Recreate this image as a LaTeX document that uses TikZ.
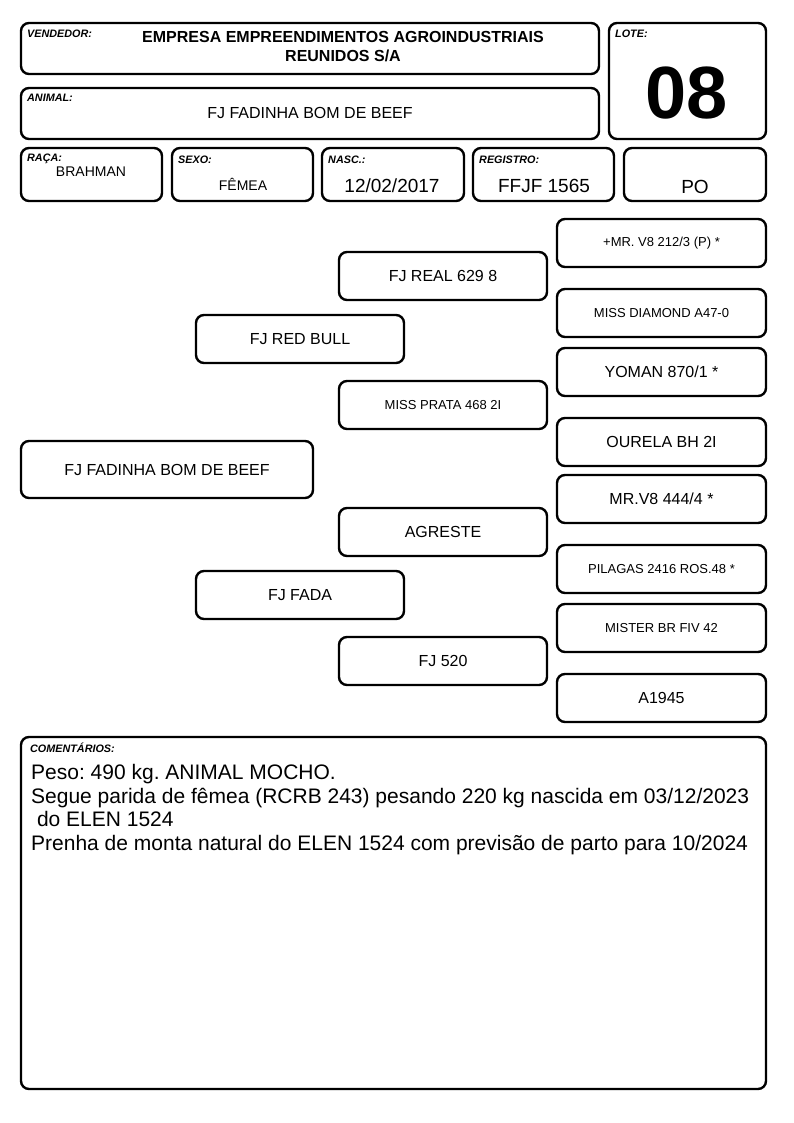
\documentclass[tikz,border=0pt]{standalone}
\usepackage{fontspec}
\setmainfont{Liberation Sans}
\frenchspacing
\begin{document}
\begin{tikzpicture}[x=1pt,y=-1pt,
  box/.style={draw,line width=2.4pt,rounded corners=8pt},
  lbl/.style={font=\fontsize{10.8}{12}\selectfont\bfseries\itshape,anchor=north west,inner sep=0pt},
  big/.style={font=\fontsize{16}{19}\selectfont,inner sep=0pt},
  sm/.style={font=\fontsize{13}{15}\selectfont,inner sep=0pt}]
\useasboundingbox (0,0) rectangle (794,1123);
% header boxes
\draw[box] (21,23) rectangle (599,74);
\draw[box] (609,23) rectangle (766,139);
\draw[box] (21,88) rectangle (599,139);
\draw[box] (21,148) rectangle (162,201);
\draw[box] (172,148) rectangle (313,201);
\draw[box] (322,148) rectangle (464,201);
\draw[box] (473,148) rectangle (614,201);
\draw[box] (624,148) rectangle (766,201);
\node[lbl] (lv) at (27,30) {VENDEDOR:};
\node[font=\fontsize{16}{19}\selectfont\bfseries,align=center,inner sep=0pt] (vend) at (343,47) {EMPRESA EMPREENDIMENTOS AGROINDUSTRIAIS\\REUNIDOS S/A};
\node[lbl] (ll) at (615,30) {LOTE:};
\node[font=\fontsize{74}{74}\selectfont\bfseries,inner sep=0pt] (lote) at (687,93) {08};
\node[lbl] (la) at (27,94) {ANIMAL:};
\node[big] (anim) at (310,113) {FJ FADINHA BOM DE BEEF};
\node[lbl] (lr) at (27,154) {RAÇA:};
\node[font=\fontsize{14}{17}\selectfont,inner sep=0pt] (raca) at (91,172) {BRAHMAN};
\node[lbl] (ls) at (178,156) {SEXO:};
\node[font=\fontsize{14}{17}\selectfont,inner sep=0pt] (sexo) at (243,184) {FÊMEA};
\node[lbl] (ln) at (328,156) {NASC.:};
\node[font=\fontsize{19}{22}\selectfont,inner sep=0pt] (nasc) at (392,186) {12/02/2017};
\node[lbl] (lg) at (479,156) {REGISTRO:};
\node[font=\fontsize{19}{22}\selectfont,inner sep=0pt] (reg) at (544,186) {FFJF 1565};
\node[font=\fontsize{19}{22}\selectfont,inner sep=0pt] (po) at (695,187) {PO};
% pedigree
\draw[box] (557,219) rectangle (766,267) node[midway,sm] (g1) {+MR. V8 212/3 (P) *};
\draw[box] (339,252) rectangle (547,300) node[midway,big] (p1) {FJ REAL 629 8};
\draw[box] (557,289) rectangle (766,337) node[midway,sm] (g2) {MISS DIAMOND A47-0};
\draw[box] (196,315) rectangle (404,363) node[midway,big] (s) {FJ RED BULL};
\draw[box] (557,348) rectangle (766,396) node[midway,big] (g3) {YOMAN 870/1 *};
\draw[box] (339,381) rectangle (547,429) node[midway,sm] (p2) {MISS PRATA 468 2I};
\draw[box] (557,418) rectangle (766,466) node[midway,big] (g4) {OURELA BH 2I};
\draw[box] (21,441) rectangle (313,498) node[midway,big] (a) {FJ FADINHA BOM DE BEEF};
\draw[box] (557,475) rectangle (766,523) node[midway,big] (g5) {MR.V8 444/4 *};
\draw[box] (339,508) rectangle (547,556) node[midway,big] (p3) {AGRESTE};
\draw[box] (557,545) rectangle (766,593) node[midway,sm] (g6) {PILAGAS 2416 ROS.48 *};
\draw[box] (196,571) rectangle (404,619) node[midway,big] (d) {FJ FADA};
\draw[box] (557,604) rectangle (766,652) node[midway,sm] (g7) {MISTER BR FIV 42};
\draw[box] (339,637) rectangle (547,685) node[midway,big] (p4) {FJ 520};
\draw[box] (557,674) rectangle (766,722) node[midway,big] (g8) {A1945};
% comments
\draw[box] (21,737) rectangle (766,1089);
\node[lbl] (lc) at (30,743) {COMENTÁRIOS:};
\node[font=\fontsize{21}{23.7}\selectfont,align=left,anchor=north west,inner sep=0pt] (com) at (31,764)
 {Peso: 490 kg. ANIMAL MOCHO.\\Segue parida de fêmea (RCRB 243) pesando 220 kg nascida em 03/12/2023\\\ do ELEN 1524\\Prenha de monta natural do ELEN 1524 com previsão de parto para 10/2024};
\end{tikzpicture}
\end{document}
